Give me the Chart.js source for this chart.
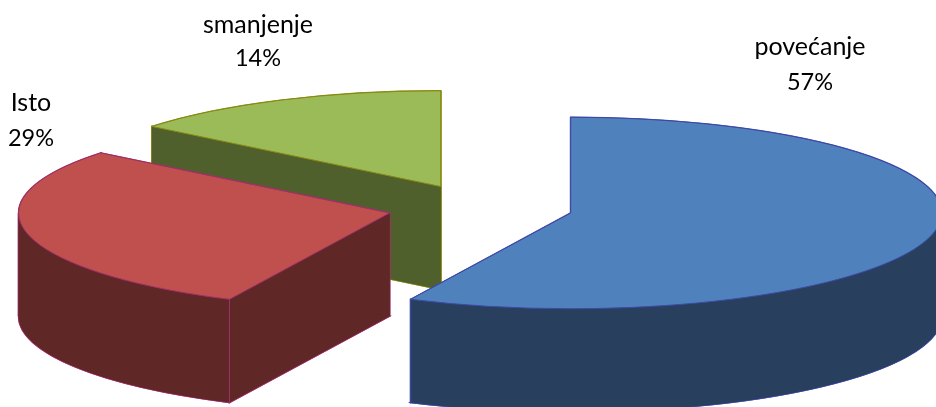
<!DOCTYPE html>
<html>
<head>
<meta charset="utf-8">
<style>
html,body{margin:0;padding:0;background:#fff;overflow:hidden}
#wrap{position:relative;width:936px;height:407px}
canvas{display:block}
</style>
<script src="https://cdn.jsdelivr.net/npm/chart.js@4"></script>
</head>
<body>
<div id="wrap"><canvas id="c" width="936" height="407"></canvas></div>
<script>
const categories = ['povećanje', 'Isto', 'smanjenje'];
const values = [57.1, 28.7, 14.2];
const valueLabels = ['57%', '29%', '14%'];
const topColors = ['#4F81BD', '#C0504D', '#9BBB59'];
const wallColors = ['#283F5E', '#602727', '#50602D'];
const edgeColors = ['#3F48A8', '#A0306A', '#8A8A10'];

const SQUASH = 0.258, DEPTH = 103, RADIUS = 371;
const explodeBy = [93, 92.7, 91];
const labelPos = [[810, 55, 90], [31, 111, 146], [258, 33, 66]];

function origin(arc, i) {
  const mid = (arc.startAngle + arc.endAngle) / 2;
  return [arc.x + explodeBy[i] * Math.cos(mid), arc.y + explodeBy[i] * Math.sin(mid) * SQUASH];
}
function rimPoint(arc, i, a) {
  const o = origin(arc, i);
  return [o[0] + arc.outerRadius * Math.cos(a), o[1] + arc.outerRadius * Math.sin(a) * SQUASH];
}
function place(ctx, arc, i, drop) {
  const o = origin(arc, i);
  ctx.translate(o[0], o[1] + drop);
  ctx.scale(1, SQUASH);
  ctx.translate(-arc.x, -arc.y);
}
// The shapes whose union is the slice swept downward by DEPTH.
function wallShapes(ctx, arc, i) {
  const o = origin(arc, i);
  const s = rimPoint(arc, i, arc.startAngle), e = rimPoint(arc, i, arc.endAngle);
  const ell = (drop, from, to, ccw) => ctx.ellipse(o[0], o[1] + drop, arc.outerRadius, arc.outerRadius * SQUASH, 0, from, to, ccw);
  const quad = (p) => () => {
    ctx.beginPath();
    ctx.moveTo(o[0], o[1]);
    ctx.lineTo(p[0], p[1]);
    ctx.lineTo(p[0], p[1] + DEPTH);
    ctx.lineTo(o[0], o[1] + DEPTH);
    ctx.closePath();
  };
  const band = (from, to) => () => {
    ctx.beginPath();
    ell(0, from, to, false);
    ell(DEPTH, to, from, true);
    ctx.closePath();
  };
  // split the rim where it turns back in x, so each band is a simple shape
  const cuts = [arc.startAngle];
  for (let k = -2; k <= 4; k++) {
    const a = k * Math.PI;
    if (a > arc.startAngle && a < arc.endAngle) cuts.push(a);
  }
  cuts.push(arc.endAngle);
  const bands = [];
  for (let k = 0; k + 1 < cuts.length; k++) bands.push(band(cuts[k], cuts[k + 1]));
  return [
    () => { ctx.beginPath(); ctx.moveTo(o[0], o[1] + DEPTH); ell(DEPTH, arc.startAngle, arc.endAngle, false); ctx.closePath(); },
    ...bands,
    quad(s),
    quad(e)
  ];
}

const pie3d = {
  id: 'pie3d',
  beforeDatasetsDraw(chart) {
    const ctx = chart.ctx;
    const arcs = chart.getDatasetMeta(0).data;
    for (let i = arcs.length - 1; i >= 0; i--) {
      const arc = arcs[i];
      const shapes = wallShapes(ctx, arc, i);
      ctx.save();
      ctx.strokeStyle = edgeColors[i];
      ctx.lineWidth = 1.6;
      shapes.forEach(p => { p(); ctx.stroke(); });
      ctx.fillStyle = wallColors[i];
      shapes.forEach(p => { p(); ctx.fill(); });
      ctx.lineWidth = 1;
      for (const a of [arc.startAngle, arc.endAngle]) {
        if (Math.sin(a) > 0) {
          const p = rimPoint(arc, i, a);
          ctx.beginPath(); ctx.moveTo(p[0], p[1]); ctx.lineTo(p[0], p[1] + DEPTH); ctx.stroke();
        }
      }
      ctx.restore();
      // top face, drawn by the library's own arc element
      ctx.save();
      place(ctx, arc, i, 0);
      arc.draw(ctx);
      ctx.restore();
      // its outline, at an even screen width
      ctx.save();
      ctx.strokeStyle = edgeColors[i];
      ctx.lineWidth = 1;
      const o = origin(arc, i);
      ctx.beginPath();
      ctx.moveTo(o[0], o[1]);
      ctx.ellipse(o[0], o[1], arc.outerRadius, arc.outerRadius * SQUASH, 0, arc.startAngle, arc.endAngle);
      ctx.closePath();
      ctx.stroke();
      ctx.restore();
    }
    return false;
  },
  afterDraw(chart) {
    const ctx = chart.ctx;
    ctx.save();
    ctx.fillStyle = '#000';
    ctx.textAlign = 'center';
    ctx.textBaseline = 'alphabetic';
    categories.forEach((name, i) => {
      ctx.font = '25px Lato, "Open Sans", sans-serif';
      ctx.fillText(name, labelPos[i][0], labelPos[i][1]);
      ctx.font = '23.5px Lato, "Open Sans", sans-serif';
      ctx.fillText(valueLabels[i], labelPos[i][0], labelPos[i][2]);
    });
    ctx.restore();
  }
};

new Chart(document.getElementById('c'), {
  type: 'pie',
  data: {
    labels: categories,
    datasets: [{ data: values, backgroundColor: topColors, borderWidth: 0 }]
  },
  options: {
    responsive: false,
    animation: false,
    radius: RADIUS,
    layout: { padding: { left: 24, top: 8.4, right: 0, bottom: 0 } },
    plugins: { legend: { display: false }, tooltip: { enabled: false } }
  },
  plugins: [pie3d]
});
</script>
</body>
</html>
